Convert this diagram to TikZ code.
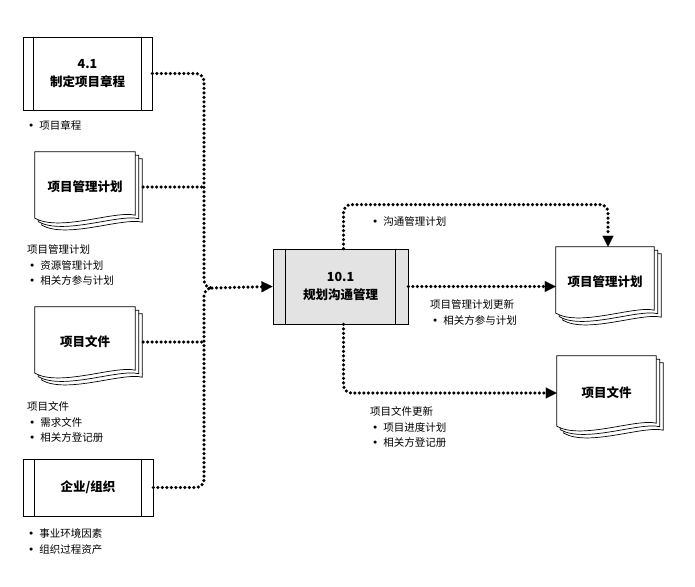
\documentclass[tikz,border=0pt]{standalone}
\usepackage{fontspec}
\setmainfont{Noto Sans CJK SC}
\newfontfamily\symfont{DejaVu Sans}
\usepackage{tikz}
\usetikzlibrary{calc,arrows.meta,backgrounds}
\colorlet{procfill}{black!11}

% stacked document pages behind a node
\newcommand{\docstack}[1]{%
  \foreach \o in {7,3.5,0}{%
    \filldraw[docpage] ($(#1.north west)+(\o,\o)$) -- ($(#1.north east)+(\o,\o)$)
      -- ($(#1.south east)+(\o,\o-7)$)
      .. controls ($(#1.south)+(\o+30,\o-12)$) and ($(#1.south)+(\o-25,\o+10)$) ..
      ($(#1.south west)+(\o,\o-4)$) -- cycle;}}
% side bars of a process box
\newcommand{\procbars}[2]{%
  \draw[procline] ($(#1.north west)+(#2,0)$) -- ($(#1.south west)+(#2,0)$);
  \draw[procline] ($(#1.north east)+(-#2,0)$) -- ($(#1.south east)+(-#2,0)$);}
\newcommand{\itm}[1]{\hspace*{2pt}{\symfont •}\hspace{5pt}#1}

\tikzset{
  proc/.style={draw, line width=0.9pt, fill=white, align=center, inner sep=0pt,
    font=\fontsize{12.5}{18}\selectfont\bfseries},
  procline/.style={line width=0.9pt},
  docnode/.style={inner sep=0pt, font=\fontsize{12.5}{15}\selectfont\bfseries},
  docpage/.style={draw=black, fill=white, line width=0.7pt},
  note/.style={font=\fontsize{10.5}{15.5}\selectfont, align=left, inner sep=0pt, anchor=north west},
  flow/.style={line width=3.5pt, line cap=round, dash pattern=on 0pt off 4.5pt, rounded corners=8pt},
  flowtip/.style={-{Triangle[length=11pt,width=11pt,line width=0.1pt]}},
}

\begin{document}
\begin{tikzpicture}[x=1pt,y=-1pt]
  \useasboundingbox (0,0) rectangle (695,586);

  % --- inputs ---
  \node[proc, minimum width=129pt, minimum height=73pt] (charter) at (87.5,73.5) {4.1\\制定项目章程};
  \procbars{charter}{11}
  \node[note] (charterNote) at (26,120.5) {\itm{项目章程}};

  \node[docnode, minimum width=100pt, minimum height=70pt] (pmpIn) at (85,187) {项目管理计划};
  \node[note] (pmpInNote) at (27,244.5) {项目管理计划\\\itm{资源管理计划}\\\itm{相关方参与计划}};

  \node[docnode, minimum width=100pt, minimum height=70pt] (docsIn) at (85,342) {项目文件};
  \node[note] (docsInNote) at (27,401.5) {项目文件\\\itm{需求文件}\\\itm{相关方登记册}};

  \node[proc, minimum width=130pt, minimum height=57pt] (orgIn) at (88,487.5) {企业/组织};
  \procbars{orgIn}{12}
  \node[note] (orgNote) at (26,528.5) {\itm{事业环境因素}\\\itm{组织过程资产}};

  % --- process ---
  \node[proc, fill=procfill, minimum width=135pt, minimum height=75pt] (plan) at (340.5,286.5) {10.1\\规划沟通管理};
  \procbars{plan}{13}

  % --- outputs ---
  \node[docnode, minimum width=98pt, minimum height=70pt] (pmpOut) at (605,282) {项目管理计划};
  \node[docnode, minimum width=99pt, minimum height=74pt] (docsOut) at (606.5,393) {项目文件};
  \node[note] (commNote) at (370,216.5) {\itm{沟通管理计划}};
  \node[note] (pmpUpdNote) at (430,299.5) {项目管理计划更新\\\itm{相关方参与计划}};
  \node[note] (docsUpdNote) at (370,406.5) {项目文件更新\\\itm{项目进度计划}\\\itm{相关方登记册}};

  \begin{scope}[on background layer]
    \docstack{pmpIn}
    \docstack{docsIn}
    \docstack{pmpOut}
    \docstack{docsOut}
  \end{scope}

  % --- input bus ---
  \coordinate (join) at (204,288);
  \draw[flow] (charter.east) -| (join) -- ++(8,0);
  \draw[flow] (orgIn.east) -| (join) -- ++(8,0);
  \draw[flow] ([xshift=8pt]pmpIn.east) -- (pmpIn.east -| join);
  \draw[flow] ([xshift=8pt]docsIn.east) -- (docsIn.east -| join);
  \draw[flow, flowtip] ([xshift=8pt]join) -- (plan.west);

  % --- output flows ---
  \draw[flow, flowtip] ([xshift=3pt]plan.north) -- ++(0,-44) -| ([xshift=3pt]pmpOut.north);
  \draw[flow, flowtip] (plan.east) -- (plan.east -| pmpOut.west);
  \draw[flow, flowtip] ([xshift=3pt]plan.south) |- (docsOut.west);
\end{tikzpicture}
\end{document}
